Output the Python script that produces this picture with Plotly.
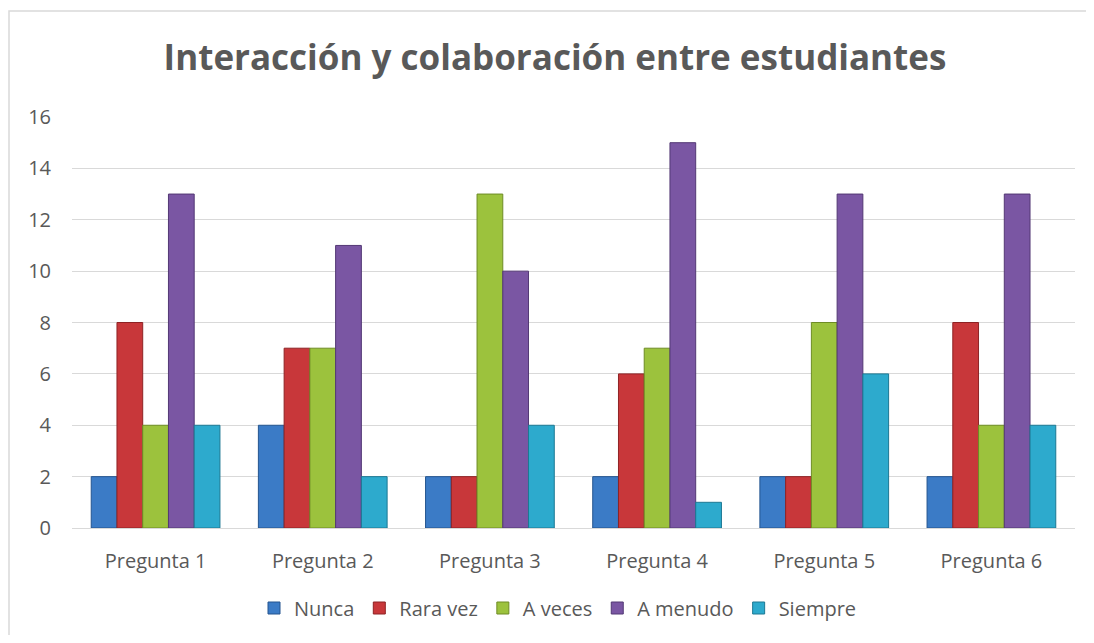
import plotly.graph_objects as go

categories = ["Pregunta 1", "Pregunta 2", "Pregunta 3", "Pregunta 4", "Pregunta 5", "Pregunta 6"]
series_names = ["Nunca", "Rara vez", "A veces", "A menudo", "Siempre"]
nunca = [2, 4, 2, 2, 2, 2]
rara_vez = [8, 7, 2, 6, 2, 8]
a_veces = [4, 7, 13, 7, 8, 4]
a_menudo = [13, 11, 10, 15, 13, 13]
siempre = [4, 2, 4, 1, 6, 4]
y_ticks = [0, 2, 4, 6, 8, 10, 12, 14, 16]

values = [nunca, rara_vez, a_veces, a_menudo, siempre]
colors = ["#3B7BC6", "#C8373A", "#9CC23D", "#7A56A3", "#2DAACD"]
edges = ["#24558F", "#8E2224", "#6E8C25", "#533874", "#1C7893"]

fig = go.Figure()
for name, vals, c, e in zip(series_names, values, colors, edges):
    fig.add_trace(go.Bar(
        x=categories, y=vals, name=name,
        marker=dict(color=c, line=dict(color=e, width=1)),
    ))

# page body has an 8px margin; figure coordinates below compensate
W, H = 1078, 627
L, R, T, B = 64, 1067, 109, 520
pw, ph = R - L, B - T

fig.update_layout(
    width=W, height=H,
    margin=dict(l=L, r=W - R, t=T, b=H - B, autoexpand=False),
    paper_bgcolor="white", plot_bgcolor="white",
    barmode="group", bargap=0.23, bargroupgap=0,
    font=dict(family="Open Sans, Liberation Sans, sans-serif", color="#595959", size=20),
    title=dict(text="<b>Interacción y colaboración entre estudiantes</b>",
               x=547 / W, xanchor="center", y=1 - 50 / H, yanchor="middle",
               font=dict(size=35, color="#595959")),
    legend=dict(orientation="h", x=(550 - L) / pw, xanchor="center",
                y=(B - 600) / ph, yanchor="middle",
                font=dict(size=20, color="#595959"), itemwidth=30,
                traceorder="normal"),
    xaxis=dict(showgrid=False, showline=True, linecolor="#D9D9D9", linewidth=1,
               ticks="", tickfont=dict(size=20, color="#595959"), ticklabelstandoff=15,
               automargin=False),
    yaxis=dict(range=[0, 16], tickvals=y_ticks, showgrid=True, gridcolor="#D9D9D9",
               gridwidth=1, zeroline=False, showline=False, ticks="",
               tickfont=dict(size=20, color="#595959"), ticklabelstandoff=20,
               automargin=False),
    shapes=[dict(type="rect", xref="paper", yref="paper",
                 x0=(1 - L) / pw, x1=(1100 - L) / pw,
                 y0=(B - 660) / ph, y1=(B - 3) / ph,
                 line=dict(color="#D9D9D9", width=1.5), layer="below")],
)

fig.write_html("out.html")
